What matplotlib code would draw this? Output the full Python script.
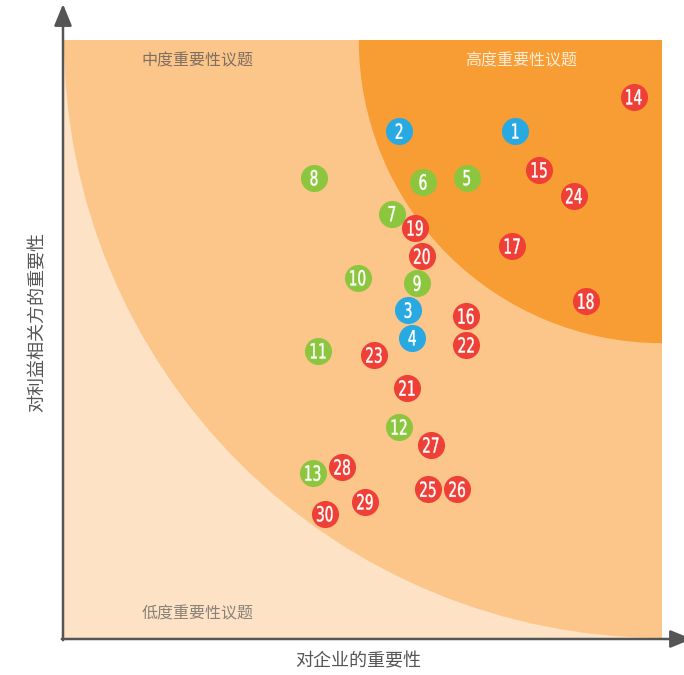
import matplotlib.pyplot as plt
from matplotlib.patches import Circle, Rectangle, PathPatch
from matplotlib.textpath import TextPath
from matplotlib.font_manager import FontProperties
import matplotlib.transforms as mtransforms

plt.rcParams['font.family'] = ['Noto Sans CJK SC', 'DejaVu Sans']

# 议题编号、坐标(0-10)与类别
ids = list(range(1, 31))
x_vals = [7.55, 5.61, 5.76, 5.83, 6.74, 6.01, 5.49, 4.19, 5.91, 4.92,
          4.26, 5.61, 4.17, 9.53, 7.95, 6.73, 7.50, 8.73, 5.88, 5.99,
          5.74, 6.73, 5.19, 8.53, 6.09, 6.58, 6.14, 4.66, 5.04, 4.37]
y_vals = [8.48, 8.48, 5.49, 5.03, 7.70, 7.63, 7.10, 7.70, 5.94, 6.03,
          4.81, 3.54, 2.77, 9.05, 7.83, 5.39, 6.56, 5.64, 6.86, 6.39,
          4.19, 4.91, 4.74, 7.40, 2.50, 2.50, 3.24, 2.87, 2.29, 2.09]
groups = ['blue'] * 4 + ['green'] * 9 + ['red'] * 17

colors = {'blue': '#29a9e1', 'green': '#8cc63f', 'red': '#ee4036'}
region_labels = ['低度重要性议题', '中度重要性议题', '高度重要性议题']
x_label = '对企业的重要性'
y_label = '对利益相关方的重要性'

DPI = 100
fig = plt.figure(figsize=(6.84, 6.75), dpi=DPI)
ax = fig.add_axes([63 / 684, 36 / 675, 599 / 684, 599 / 675])
ax.set_xlim(0, 10)
ax.set_ylim(0, 10)
ax.axis('off')

# 背景区域
ax.add_patch(Rectangle((0, 0), 10, 10, color='#fde2c6', zorder=0))
mid = Circle((10, 10), 9.97, color='#fcc68a', zorder=1)
ax.add_patch(mid)
high = Circle((10, 10), 5.05, color='#f79d34', zorder=2)
ax.add_patch(high)
rect = Rectangle((0, 0), 10, 10, transform=ax.transData)
mid.set_clip_path(rect)
high.set_clip_path(rect)

ax.text(2.24, 9.66, region_labels[1], ha='center', va='center', fontsize=11.5, color='#7d6f62', zorder=3)
ax.text(7.65, 9.66, region_labels[2], ha='center', va='center', fontsize=11.5, color='#fdebd6', zorder=3)
ax.text(2.24, 0.42, region_labels[0], ha='center', va='center', fontsize=11.5, color='#8a8178', zorder=3)

# 坐标轴箭头
ax.annotate('', xy=(0, 10.6), xytext=(0, -0.02), annotation_clip=False,
            arrowprops=dict(arrowstyle='-|>,head_length=1.1,head_width=0.45', color='#555555', lw=1.8,
                            shrinkA=0, shrinkB=0, mutation_scale=12))
ax.annotate('', xy=(10.5, 0), xytext=(-0.02, 0), annotation_clip=False,
            arrowprops=dict(arrowstyle='-|>,head_length=1.1,head_width=0.45', color='#555555', lw=1.8,
                            shrinkA=0, shrinkB=0, mutation_scale=12))

ax.text(4.92, -0.38, x_label, ha='center', va='center', fontsize=13, color='#555555')
ax.text(-0.42, 5.3, y_label, ha='center', va='center', fontsize=13, color='#555555', rotation=90)

# 议题圆点（数字做窄体处理）
num_font = FontProperties(family='DejaVu Sans')
for i, xv, yv, g in zip(ids, x_vals, y_vals, groups):
    ax.scatter(xv, yv, s=380, color=colors[g], zorder=4, linewidths=0)
    tp = TextPath((0, 0), str(i), size=15, prop=num_font)
    bb = tp.get_extents()
    trans = (mtransforms.Affine2D()
             .translate(-(bb.x0 + bb.x1) / 2, -(bb.y0 + bb.y1) / 2)
             .scale(0.66 * DPI / 72, DPI / 72)
             + mtransforms.ScaledTranslation(xv, yv, ax.transData))
    ax.add_patch(PathPatch(tp, transform=trans, facecolor='white', edgecolor='white',
                           lw=0.3, zorder=5))

fig.savefig('out.png', dpi=DPI)
